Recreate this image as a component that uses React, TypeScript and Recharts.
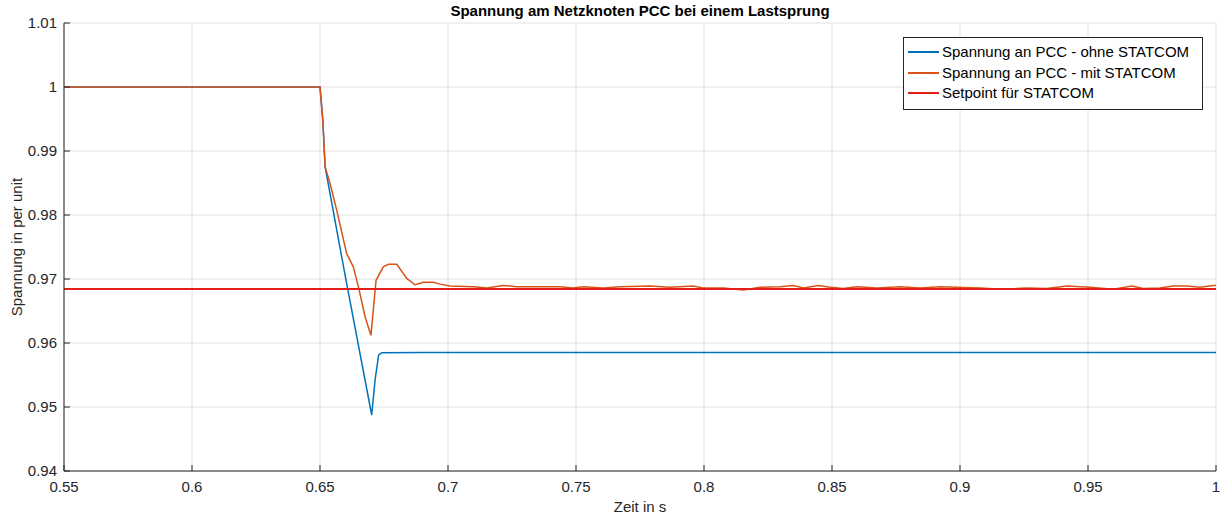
import React from 'react';
import { LineChart, Line, XAxis, YAxis, CartesianGrid } from 'recharts';

const xTicks = [0.55, 0.6, 0.65, 0.7, 0.75, 0.8, 0.85, 0.9, 0.95, 1.0];
const xTickLabels = ['0.55', '0.6', '0.65', '0.7', '0.75', '0.8', '0.85', '0.9', '0.95', '1'];
const yTicks = [0.94, 0.95, 0.96, 0.97, 0.98, 0.99, 1.0, 1.01];
const yTickLabels = ['0.94', '0.95', '0.96', '0.97', '0.98', '0.99', '1', '1.01'];

const seriesNames = ['Spannung an PCC - ohne STATCOM', 'Spannung an PCC - mit STATCOM', 'Setpoint für STATCOM'];
const seriesColors = ['#0072BD', '#D95319', '#E3201B'];

const timeOhne = [0.55, 0.65, 0.6511, 0.652, 0.6604, 0.6702, 0.6715, 0.6729, 0.6741, 0.69, 1.0];
const voltOhne = [1.0, 1.0, 0.9948, 0.9875, 0.9693, 0.94875, 0.9542, 0.9581, 0.95849, 0.9585, 0.9585];

const timeMit = [
  0.55, 0.65, 0.6511, 0.652, 0.6539, 0.6565, 0.6604, 0.663, 0.665, 0.6676, 0.6699, 0.6719, 0.6747,
  0.6767, 0.68, 0.6839, 0.6871, 0.6904, 0.6943, 0.6969, 0.7008, 0.7099, 0.7151, 0.7216, 0.7268,
  0.7359, 0.7438, 0.7489, 0.7529, 0.7607, 0.7672, 0.7789, 0.7867, 0.7958, 0.7997, 0.8075, 0.8154,
  0.8219, 0.8297, 0.8349, 0.8388, 0.8447, 0.8492, 0.8544, 0.8596, 0.8675, 0.8766, 0.8844, 0.8922,
  0.8987, 0.9078, 0.9169, 0.9261, 0.9339, 0.9417, 0.9508, 0.9599, 0.9671, 0.9716, 0.9781, 0.9833,
  0.9885, 0.9938, 0.999, 1.0,
];
const voltMit = [
  1.0, 1.0, 0.9948, 0.9875, 0.98495, 0.9808, 0.974, 0.9719, 0.9688, 0.9641, 0.9612, 0.9698, 0.9719,
  0.9723, 0.9723, 0.9701, 0.9691, 0.9695, 0.9695, 0.9692, 0.9689, 0.9688, 0.9686, 0.969, 0.9688,
  0.9688, 0.9688, 0.9686, 0.9688, 0.9686, 0.9688, 0.9689, 0.9687, 0.9689, 0.9686, 0.9686, 0.9683,
  0.9687, 0.9688, 0.969, 0.9686, 0.969, 0.9687, 0.9685, 0.9688, 0.9686, 0.9688, 0.9686, 0.9688,
  0.9687, 0.9686, 0.9684, 0.9686, 0.9685, 0.9689, 0.9687, 0.9684, 0.9689, 0.9685, 0.9686, 0.9689,
  0.9689, 0.9687, 0.969, 0.969,
];

const timeSetpoint = [0.55, 1.0];
const voltSetpoint = [0.96844, 0.96844];

const ohneData = timeOhne.map((t, i) => ({ t, v: voltOhne[i] }));
const mitData = timeMit.map((t, i) => ({ t, v: voltMit[i] }));
const setData = timeSetpoint.map((t, i) => ({ t, v: voltSetpoint[i] }));

const FONT = '"Liberation Sans", Arial, Helvetica, sans-serif';
const AXIS = '#262626';
const TEXT = '#262626';
const TL = 6;

const labelFor = (ticks: number[], labels: string[], v: number) => {
  const i = ticks.findIndex((t) => Math.abs(t - v) < 1e-9);
  return i >= 0 ? labels[i] : String(v);
};

const BottomTick = (props: any) => {
  const { x, y, payload } = props;
  return (
    <g>
      <line x1={x} y1={y} x2={x} y2={y - TL} stroke={AXIS} strokeWidth={1} />
      <text x={x} y={y + 21} textAnchor="middle" fontSize={15} fill={TEXT} fontFamily={FONT}>
        {labelFor(xTicks, xTickLabels, payload.value)}
      </text>
    </g>
  );
};
const TopTick = (props: any) => {
  const { x, y } = props;
  return <line x1={x} y1={y} x2={x} y2={y + TL} stroke={AXIS} strokeWidth={1} />;
};
const LeftTick = (props: any) => {
  const { x, y, payload } = props;
  return (
    <g>
      <line x1={x} y1={y} x2={x + TL} y2={y} stroke={AXIS} strokeWidth={1} />
      <text x={x - 7} y={y + 5} textAnchor="end" fontSize={15} fill={TEXT} fontFamily={FONT}>
        {labelFor(yTicks, yTickLabels, payload.value)}
      </text>
    </g>
  );
};
const RightTick = (props: any) => {
  const { x, y } = props;
  return <line x1={x} y1={y} x2={x - TL} y2={y} stroke={AXIS} strokeWidth={1} />;
};

export default function App() {
  const seriesData = [ohneData, mitData, setData];
  return (
    <div style={{ position: 'absolute', left: 0, top: 0, width: 1224, height: 517, background: '#fff', fontFamily: FONT }}>
      <LineChart width={1224} height={517} margin={{ top: 23, right: 8, bottom: 0, left: 0 }}>
        <CartesianGrid stroke="#e0e0e0" strokeWidth={1} />
        <XAxis
          xAxisId={0}
          dataKey="t"
          type="number"
          domain={[0.55, 1.0]}
          ticks={xTicks}
          interval={0}
          allowDataOverflow
          height={46}
          tickSize={0}
          tickMargin={0}
          tickLine={false}
          tick={BottomTick}
          axisLine={{ stroke: AXIS }}
        />
        <XAxis
          xAxisId="top"
          orientation="top"
          dataKey="t"
          type="number"
          domain={[0.55, 1.0]}
          ticks={xTicks}
          interval={0}
          allowDataOverflow
          height={0}
          tickSize={0}
          tickMargin={0}
          tickLine={false}
          tick={TopTick}
          axisLine={{ stroke: AXIS }}
        />
        <YAxis
          yAxisId={0}
          type="number"
          domain={[0.94, 1.01]}
          ticks={yTicks}
          interval={0}
          allowDataOverflow
          width={64}
          tickSize={0}
          tickMargin={0}
          tickLine={false}
          tick={LeftTick}
          axisLine={{ stroke: AXIS }}
        />
        <YAxis
          yAxisId="right"
          orientation="right"
          type="number"
          domain={[0.94, 1.01]}
          ticks={yTicks}
          interval={0}
          allowDataOverflow
          width={0}
          tickSize={0}
          tickMargin={0}
          tickLine={false}
          tick={RightTick}
          axisLine={{ stroke: AXIS }}
        />
        {seriesData.map((d, i) => (
          <Line
            key={seriesNames[i]}
            data={d}
            dataKey="v"
            name={seriesNames[i]}
            type="linear"
            stroke={seriesColors[i]}
            strokeWidth={i === 2 ? 2 : 1.5}
            dot={false}
            activeDot={false}
            isAnimationActive={false}
          />
        ))}
      </LineChart>

      <div style={{ position: 'absolute', left: 340, width: 600, top: 2, textAlign: 'center', fontSize: 15, fontWeight: 'bold', color: '#000', lineHeight: '18px' }}>
        Spannung am Netzknoten PCC bei einem Lastsprung
      </div>
      <div style={{ position: 'absolute', left: 540, width: 200, top: 498, textAlign: 'center', fontSize: 15, color: TEXT, lineHeight: '18px' }}>
        Zeit in s
      </div>
      <div
        style={{
          position: 'absolute',
          left: 17 - 100,
          top: 247 - 9,
          width: 200,
          height: 18,
          lineHeight: '18px',
          textAlign: 'center',
          fontSize: 15,
          color: TEXT,
          transform: 'rotate(-90deg)',
          transformOrigin: '50% 50%',
        }}
      >
        Spannung in per unit
      </div>

      <div
        style={{
          position: 'absolute',
          left: 903,
          top: 37,
          width: 298,
          height: 71,
          border: `1px solid ${AXIS}`,
          background: '#fff',
          boxSizing: 'content-box',
        }}
      >
        {seriesNames.map((n, i) => (
          <div key={n} style={{ position: 'absolute', left: 0, top: 3 + i * 20.5, height: 20, width: 298 }}>
            <div style={{ position: 'absolute', left: 4, top: 10, width: 31, height: 0, borderTop: `2px solid ${seriesColors[i]}` }} />
            <div style={{ position: 'absolute', left: 38, top: 1, fontSize: 15, color: '#000', lineHeight: '20px', whiteSpace: 'nowrap' }}>{n}</div>
          </div>
        ))}
      </div>
    </div>
  );
}
